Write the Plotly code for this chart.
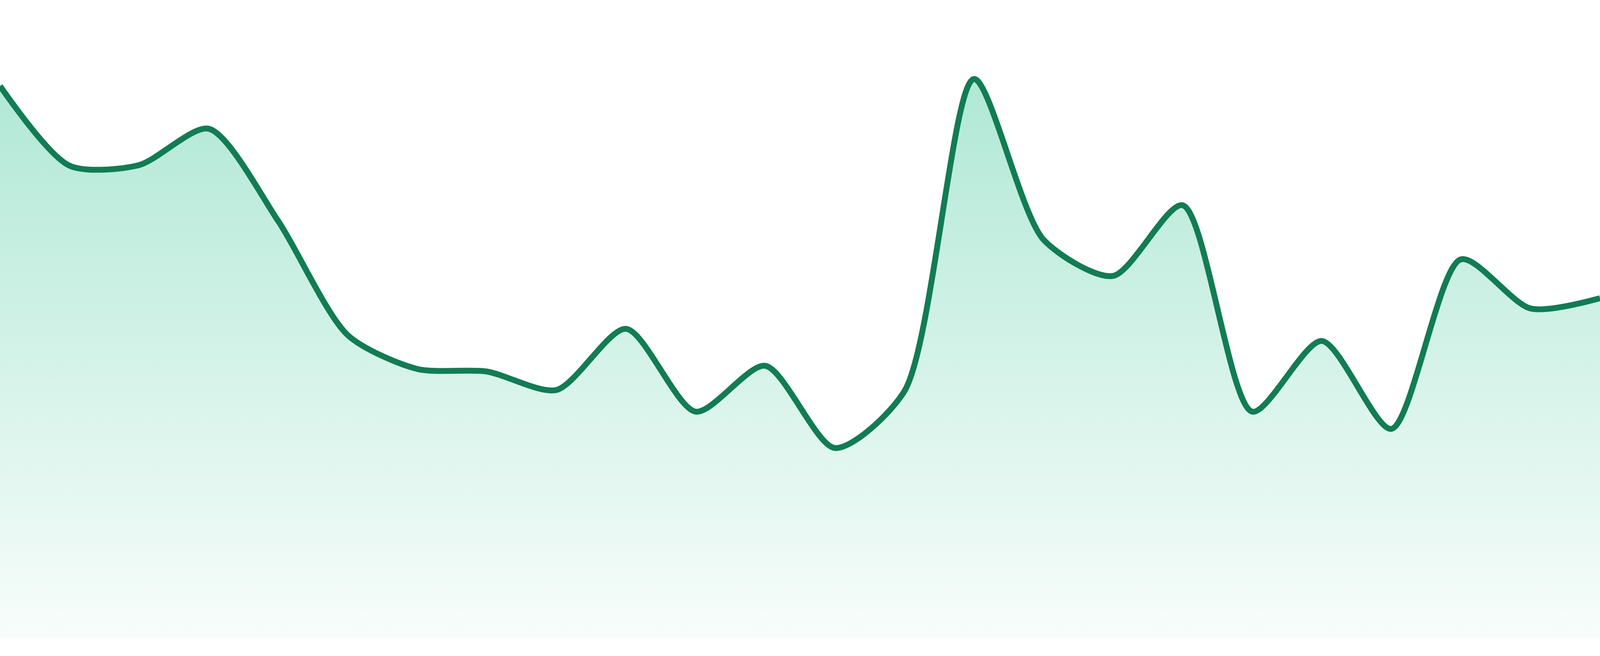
import plotly.graph_objects as go

# one point per step (0-100 scale, axis hidden)
steps = list(range(24))
values = [86.5, 74.0, 74.1, 79.8, 65.3, 47.4, 42.1, 41.7, 38.8, 48.4, 35.4, 42.6,
          29.7, 38.6, 87.6, 62.4, 56.7, 67.8, 35.4, 46.5, 32.7, 59.3, 51.6, 53.2]

line_color = "#127c54"

fig = go.Figure()

fig.add_trace(go.Scatter(
    x=steps, y=values,
    mode="lines",
    line=dict(color=line_color, width=15, shape="spline", smoothing=0.75),
    fill="tozeroy",
    fillgradient=dict(
        type="vertical",
        start=0,
        stop=max(values),
        colorscale=[[0, "rgba(16,185,129,0.03)"], [1, "rgba(16,185,129,0.33)"]],
    ),
    hoverinfo="skip",
    showlegend=False,
))

fig.update_xaxes(visible=False, range=[0, 23], fixedrange=True)
fig.update_yaxes(visible=False, range=[0, 100], fixedrange=True)

# white strip under the zero line
fig.update_layout(
    autosize=True,
    margin=dict(l=0, r=0, t=0, b=48),
    paper_bgcolor="white",
    plot_bgcolor="white",
    showlegend=False,
)

fig.write_html(
    "out.html",
    config={"displayModeBar": False, "responsive": True},
    default_width="100vw",
    default_height="100vh",
    post_script="document.body.style.margin='0';document.body.style.overflow='hidden';"
                "Plotly.Plots.resize(document.getElementById('{plot_id}'));",
)
